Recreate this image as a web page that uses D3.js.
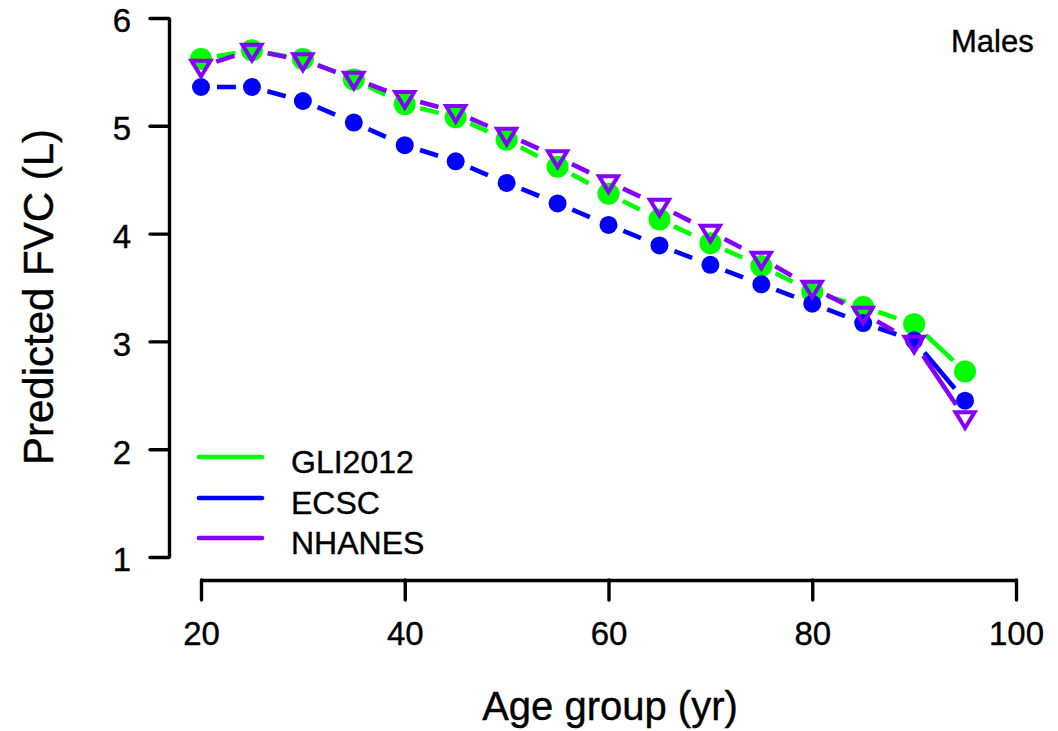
<!DOCTYPE html>
<html>
<head>
<meta charset="utf-8">
<script src="https://cdn.jsdelivr.net/npm/d3@7"></script>
<style>
  body { margin: 0; background: #fff; }
  svg text { font-family: "Liberation Sans", Arial, sans-serif; fill: #000; stroke: #000; stroke-width: 0.4px; }
</style>
</head>
<body>
<div id="chart"></div>
<script>
var ages = [20, 25, 30, 35, 40, 45, 50, 55, 60, 65, 70, 75, 80, 85, 90, 95];
var gli2012 = [5.62, 5.70, 5.62, 5.43, 5.20, 5.08, 4.87, 4.62, 4.37, 4.13, 3.91, 3.70, 3.46, 3.32, 3.16, 2.72];
var ecsc    = [5.36, 5.36, 5.23, 5.03, 4.82, 4.67, 4.47, 4.28, 4.08, 3.89, 3.71, 3.53, 3.35, 3.17, 3.01, 2.45];
var nhanes  = [5.55, 5.70, 5.61, 5.44, 5.26, 5.13, 4.92, 4.71, 4.48, 4.26, 4.02, 3.77, 3.50, 3.26, 2.99, 2.29];
var seriesNames = ["GLI2012", "ECSC", "NHANES"];
var xTicks = [20, 40, 60, 80, 100];
var yTicks = [1, 2, 3, 4, 5, 6];

var w = 1058, h = 731;
var colors = { GLI2012: "#00ff00", ECSC: "#0000ff", NHANES: "#8400ff" };

var svg = d3.select("#chart")
  .append("svg")
  .attr("width", w)
  .attr("height", h);

var xScale = d3.scaleLinear()
  .domain([20, 100])
  .range([201, 1016]);

var yScale = d3.scaleLinear()
  .domain([1, 6])
  .range([557, 18]);

// axes, R style: detached, thick
var yAxis = svg.append("g")
  .attr("transform", "translate(169,0)")
  .call(d3.axisLeft(yScale).tickValues(yTicks).tickFormat(d3.format("d"))
    .tickSize(19).tickSizeOuter(0).tickPadding(19));

var xAxis = svg.append("g")
  .attr("transform", "translate(0,580)")
  .call(d3.axisBottom(xScale).tickValues(xTicks).tickFormat(d3.format("d"))
    .tickSize(20).tickSizeOuter(0).tickPadding(22));

[yAxis, xAxis].forEach(function(ax) {
  ax.select(".domain").attr("stroke", "#000").attr("stroke-width", 3.4);
  ax.selectAll(".tick line").attr("stroke", "#000").attr("stroke-width", 3.4).attr("stroke-linecap", "round");
  ax.selectAll(".tick text").attr("font-size", "33px").attr("fill", "#000");
});
yAxis.selectAll(".tick text").attr("dy", "0.42em");

var data = [
  { name: "GLI2012", values: gli2012 },
  { name: "ECSC", values: ecsc },
  { name: "NHANES", values: nhanes }
];

var gap = 16;

data.forEach(function(s) {
  var pts = ages.map(function(a, i) { return [xScale(a), yScale(s.values[i])]; });
  var segs = [];
  for (var i = 0; i < pts.length - 1; i++) {
    var dx = pts[i + 1][0] - pts[i][0], dy = pts[i + 1][1] - pts[i][1];
    var len = Math.sqrt(dx * dx + dy * dy);
    var ux = dx / len, uy = dy / len;
    segs.push({
      x1: pts[i][0] + ux * gap, y1: pts[i][1] + uy * gap,
      x2: pts[i + 1][0] - ux * gap, y2: pts[i + 1][1] - uy * gap,
      last: i === pts.length - 2
    });
  }

  var g = svg.append("g");

  g.selectAll("line")
    .data(segs)
    .enter()
    .append("line")
    .attr("x1", function(d) { return d.x1; })
    .attr("y1", function(d) { return d.y1; })
    .attr("x2", function(d) { return d.x2; })
    .attr("y2", function(d) { return d.y2; })
    .attr("stroke", colors[s.name])
    .attr("stroke-width", 4.6)
    .attr("stroke-dasharray", function(d) { return d.last ? null : "19,20"; });

  if (s.name === "NHANES") {
    g.selectAll("path.mark")
      .data(pts)
      .enter()
      .append("path")
      .attr("class", "mark")
      .attr("d", function(d) {
        var r = 9.5;
        return "M" + (d[0] - r) + "," + (d[1] - r * 0.6) +
               "L" + (d[0] + r) + "," + (d[1] - r * 0.6) +
               "L" + d[0] + "," + (d[1] + r * 1.05) + "Z";
      })
      .attr("fill", "none")
      .attr("stroke", colors[s.name])
      .attr("stroke-width", 4)
      .attr("stroke-linejoin", "miter");
  } else {
    g.selectAll("circle")
      .data(pts)
      .enter()
      .append("circle")
      .attr("cx", function(d) { return d[0]; })
      .attr("cy", function(d) { return d[1]; })
      .attr("r", s.name === "GLI2012" ? 11 : 9)
      .attr("fill", colors[s.name]);
  }
});

// legend
var legendY = [457, 498, 538];
seriesNames.forEach(function(n, i) {
  svg.append("line")
    .attr("x1", 199).attr("x2", 262)
    .attr("y1", legendY[i]).attr("y2", legendY[i])
    .attr("stroke", colors[n])
    .attr("stroke-width", 4.6)
    .attr("stroke-linecap", "round");
  svg.append("text")
    .attr("x", 291)
    .attr("y", legendY[i] + 16)
    .attr("font-size", "32px")
    .text(n);
});

svg.append("text")
  .attr("x", 951)
  .attr("y", 52)
  .attr("font-size", "31px")
  .text("Males");

svg.append("text")
  .attr("x", 610)
  .attr("y", 720)
  .attr("text-anchor", "middle")
  .attr("font-size", "40px")
  .text("Age group (yr)");

svg.append("text")
  .attr("transform", "translate(53,465) rotate(-90)")
  .attr("font-size", "42px")
  .text("Predicted FVC (L)");
</script>
</body>
</html>
